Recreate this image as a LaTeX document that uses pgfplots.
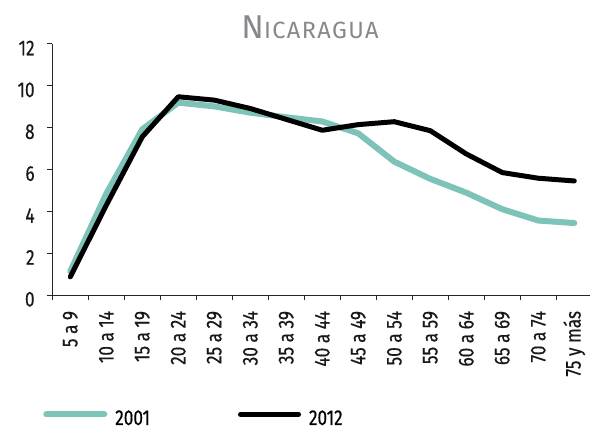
\documentclass[border=0pt]{standalone}
\usepackage{fontspec}
\setmainfont[FakeStretch=0.8,FakeBold=0.4]{Fira Sans}
\newfontfamily\titlefont[LetterSpace=6]{Fira Sans}
\usepackage{pgfplots}
\pgfplotsset{compat=1.18}
\definecolor{teal01}{RGB}{125,195,183}
\definecolor{ttl}{RGB}{135,135,140}
\begin{document}
\begin{tikzpicture}
\begin{axis}[
  at={(52.3pt,134.7pt)}, anchor=south west,
  scale only axis, width=540pt, height=251.3pt,
  xmin=-0.5, xmax=14.5, ymin=0, ymax=12,
  axis lines*=left,
  axis line style={line width=1pt, black!85},
  ytick={0,2,...,12},
  xtick={0,...,14},
  xticklabels={5 a 9,10 a 14,15 a 19,20 a 24,25 a 29,30 a 34,35 a 39,40 a 44,45 a 49,50 a 54,55 a 59,60 a 64,65 a 69,70 a 74,75 y más},
  minor xtick={-0.5,0.5,...,14.5},
  tick align=outside,
  major tick length=5.5pt,
  minor tick length=5pt,
  every major x tick/.append style={draw=none},
  tick style={line width=1pt, black!85},
  /pgf/number format/assume math mode=true,
  ticklabel style={font=\fontsize{21.5}{24}\selectfont, text=black!90},
  xticklabel style={rotate=90, anchor=east, inner sep=0pt},
  xticklabel shift=10pt,
  yticklabel style={inner sep=0pt, yshift=-4pt},
  yticklabel shift=12pt,
  legend columns=2,
  legend style={at={(-0.0167,-0.487)}, anchor=west, draw=none, fill=none,
    inner sep=0pt, outer sep=0pt,
    font=\fontsize{21.5}{24}\selectfont,
    nodes={inner sep=0pt, text depth=0pt},
    /tikz/every odd column/.append style={column sep=8pt},
    /tikz/every even column/.append style={column sep=88pt}},
  legend image code/.code={\draw[#1] (0pt,0.33em) -- (58pt,0.33em);},
  clip=false,
]
\addplot[teal01, line width=6pt, line join=round, line cap=round] coordinates {
(0,1.15) (1,4.85) (2,7.93) (3,9.2) (4,9.02) (5,8.72) (6,8.5) (7,8.3) (8,7.73) (9,6.38) (10,5.56) (11,4.9) (12,4.11) (13,3.57) (14,3.45)};
\addlegendentry{2001}
\addplot[black, line width=5pt, line join=round, line cap=round] coordinates {
(0,0.88) (1,4.3) (2,7.57) (3,9.48) (4,9.32) (5,8.92) (6,8.4) (7,7.88) (8,8.15) (9,8.29) (10,7.86) (11,6.75) (12,5.86) (13,5.59) (14,5.46)};
\addlegendentry{2012}
\end{axis}
\node[anchor=base, text=ttl, inner sep=0pt] at (310pt,391pt)
  {\titlefont\fontsize{33}{33}\selectfont N\fontsize{23.5}{23.5}\selectfont ICARAGUA};
\pgfresetboundingbox
\path[use as bounding box] (0,0) rectangle (590pt,430pt);
\end{tikzpicture}
\end{document}
